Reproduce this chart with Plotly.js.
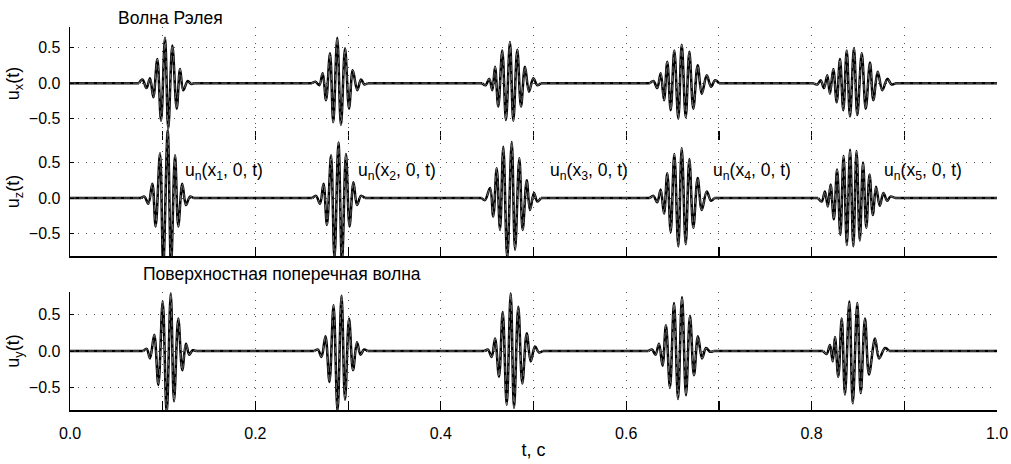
<!DOCTYPE html>
<html>
<head>
<meta charset="utf-8">
<script src="https://cdn.plot.ly/plotly-3.0.1.min.js"></script>
<style>html,body{margin:0;padding:0;background:#fff;}#chart{width:1011px;height:464px;}</style>
</head>
<body>
<div id="chart"></div>
<script>
// u_x(t): Rayleigh wave, horizontal component (extremes)
const uxT = [0,
 0.0745,0.0782,0.0825,0.0863,0.0899,0.0942,0.0982,0.1025,0.1060,0.1104,0.1151,0.1187,0.1222,0.1270,0.1305,0.134,
 0.2610,0.2648,0.2689,0.2726,0.2762,0.2805,0.2840,0.2883,0.2923,0.2967,0.3010,0.3050,0.3099,0.3139,0.3177,0.321,
 0.4445,0.4482,0.4523,0.4556,0.4585,0.4620,0.4663,0.4703,0.4746,0.4782,0.4825,0.4865,0.4908,0.4951,0.4998,0.5041,0.508,
 0.6255,0.6294,0.6335,0.6372,0.6408,0.6443,0.6480,0.6519,0.6562,0.6599,0.6642,0.6681,0.6724,0.6771,0.6815,0.6869,0.6915,0.6958,0.700,
 0.8025,0.8061,0.8098,0.8134,0.8169,0.8198,0.8234,0.8271,0.8306,0.8342,0.8379,0.8414,0.8457,0.8493,0.8541,0.8584,0.8630,0.8666,0.8713,0.8763,0.8817,0.8864,0.890,
 1];
const uxV = [0,
 0,0.05,-0.07,0.07,-0.20,0.34,-0.53,0.64,-0.64,0.53,-0.36,0.20,-0.10,0.03,-0.01,0,
 0,0.02,-0.03,0.14,-0.24,0.42,-0.55,0.64,-0.59,0.49,-0.36,0.18,-0.10,0.05,-0.02,0,
 0,-0.03,0.06,-0.10,0.23,-0.33,0.46,-0.52,0.58,-0.53,0.47,-0.33,0.23,-0.12,0.07,-0.03,0,
 0,0.03,-0.07,0.14,-0.24,0.30,-0.38,0.46,-0.50,0.54,-0.48,0.44,-0.36,0.25,-0.15,0.11,-0.05,0.04,0,
 0,-0.02,0.04,-0.07,0.11,-0.15,0.20,-0.27,0.34,-0.38,0.46,-0.47,0.49,-0.45,0.42,-0.36,0.29,-0.24,0.16,-0.10,0.06,-0.02,0,
 0];

// u_z(t): Rayleigh wave, vertical component
const uzT = [0,
 0.0765,0.0802,0.0845,0.0888,0.0924,0.0971,0.1006,0.1054,0.1090,0.1133,0.1168,0.1211,0.1251,0.1294,0.133,
 0.2615,0.2654,0.2697,0.2735,0.2772,0.2816,0.2853,0.2896,0.2934,0.2977,0.3015,0.3058,0.3096,0.3139,0.318,
 0.4440,0.4477,0.4531,0.4566,0.4603,0.4639,0.4674,0.4717,0.4765,0.4801,0.4847,0.4883,0.4927,0.4962,0.5005,0.5041,0.508,
 0.6255,0.6294,0.6335,0.6372,0.6408,0.6443,0.6480,0.6519,0.6562,0.6599,0.6642,0.6681,0.6724,0.6771,0.6815,0.6869,0.6915,0.695,
 0.8070,0.8109,0.8144,0.8175,0.8205,0.8240,0.8275,0.8310,0.8345,0.8380,0.8415,0.8450,0.8485,0.8520,0.8555,0.8590,0.8625,0.8660,0.8695,0.8735,0.8775,0.8815,0.8850,0.890,
 1];
const uzV = [0,
 0,0.02,-0.08,0.20,-0.40,0.63,-0.95,0.95,-0.95,0.60,-0.40,0.20,-0.10,0.02,0,
 0,0.03,-0.08,0.20,-0.38,0.60,-0.85,0.78,-0.90,0.62,-0.40,0.22,-0.10,0.03,0,
 0,-0.03,0.14,-0.26,0.42,-0.45,0.72,-0.85,0.79,-0.73,0.56,-0.45,0.25,-0.17,0.07,-0.05,0,
 0,0.03,-0.06,0.12,-0.22,0.35,-0.48,0.62,-0.68,0.70,-0.65,0.55,-0.42,0.28,-0.17,0.09,-0.04,0,
 0,-0.05,0.09,-0.12,0.19,-0.30,0.40,-0.52,0.59,-0.66,0.68,-0.68,0.66,-0.60,0.50,-0.42,0.33,-0.24,0.16,-0.11,0.07,-0.04,0.02,0,
 0];

// u_y(t): surface shear wave
const uyT = [0,
 0.0790,0.0827,0.0863,0.0909,0.0953,0.1000,0.1043,0.1087,0.1122,0.1168,0.1211,0.1251,0.1287,0.1323,0.136,
 0.2635,0.2675,0.2713,0.2756,0.2799,0.2843,0.2886,0.2929,0.2967,0.3010,0.3053,0.3096,0.3134,0.3172,0.321,
 0.4470,0.4509,0.4549,0.4585,0.4628,0.4668,0.4711,0.4754,0.4790,0.4836,0.4879,0.4927,0.4970,0.5016,0.5059,0.510,
 0.6240,0.6278,0.6316,0.6354,0.6392,0.6429,0.6472,0.6516,0.6559,0.6602,0.6645,0.6688,0.6731,0.6774,0.6818,0.6861,0.6904,0.694,
 0.8125,0.8163,0.8198,0.8228,0.8252,0.8288,0.8325,0.8360,0.8407,0.8444,0.8493,0.8530,0.8576,0.8619,0.8684,0.8727,0.8792,0.8835,
 1];
const uyV = [0,
 0,0.03,-0.10,0.22,-0.46,0.67,-0.85,0.78,-0.68,0.44,-0.26,0.10,-0.05,0.01,0,
 0,0.02,-0.08,0.20,-0.42,0.62,-0.82,0.75,-0.66,0.44,-0.26,0.12,-0.05,0.02,0,
 0,0.02,-0.08,0.17,-0.35,0.53,-0.73,0.78,-0.77,0.60,-0.44,0.24,-0.14,0.06,-0.02,0,
 0,0.02,-0.05,0.10,-0.20,0.35,-0.50,0.65,-0.65,0.73,-0.60,0.48,-0.33,0.20,-0.10,0.04,-0.01,0,
 0,-0.04,0.08,-0.14,0.19,-0.35,0.44,-0.59,0.67,-0.71,0.65,-0.57,0.44,-0.32,0.17,-0.10,0.04,0,
 0];

const xTickVals = [0,0.1,0.2,0.3,0.4,0.5,0.6,0.7,0.8,0.9,1.0];
const xTickText = ['0.0','','0.2','','0.4','','0.6','','0.8','','1.0'];
const yTickVals = [-0.5, 0, 0.5];
const yTickText = ['\u22120.5','0.0','0.5'];
const probeLabels = ['u<sub>n</sub>(x<sub>1</sub>, 0, t)','u<sub>n</sub>(x<sub>2</sub>, 0, t)','u<sub>n</sub>(x<sub>3</sub>, 0, t)','u<sub>n</sub>(x<sub>4</sub>, 0, t)','u<sub>n</sub>(x<sub>5</sub>, 0, t)'];
const probeT = [0.1219, 0.3085, 0.5156, 0.6915, 0.8759];
const panelTitles = ['Волна Рэлея', 'Поверхностная поперечная волна'];

const FONT = 'Liberation Sans, Arial, sans-serif';

// split a series into flat baseline stretches (drawn straight) and wave packets (drawn smooth)
function split(t, v) {
  const packets = [], base = {x: [], y: []};
  let i = 0;
  while (i < t.length - 1) {
    if (v[i] === 0 && v[i + 1] === 0) {
      base.x.push(t[i], t[i + 1], null); base.y.push(v[i], v[i + 1], null); i++;
    } else {
      let j = i + 1;
      while (j < t.length && v[j] !== 0) j++;
      packets.push({x: t.slice(i, j + 1), y: v.slice(i, j + 1)});
      i = j;
    }
  }
  return {packets, base};
}
function series(t, v, xa, ya) {
  const s = split(t, v), out = [];
  const styles = [
    {color: '#000', width: 2.5},
    {color: '#b4b4b4', width: 0.6, dash: '6px,3px'}
  ];
  styles.forEach(st => {
    out.push({x: s.base.x, y: s.base.y, xaxis: xa, yaxis: ya, type: 'scatter', mode: 'lines',
      line: Object.assign({}, st, {shape: 'linear'}), hoverinfo: 'skip', showlegend: false});
    s.packets.forEach(p => out.push({x: p.x, y: p.y, xaxis: xa, yaxis: ya, type: 'scatter', mode: 'lines',
      line: Object.assign({}, st, {shape: 'spline', smoothing: 1}), hoverinfo: 'skip', showlegend: false}));
  });
  return out;
}
const data = [].concat(series(uxT, uxV, 'x', 'y'), series(uzT, uzV, 'x2', 'y2'), series(uyT, uyV, 'x3', 'y3'));

const gridStyle = {showgrid: true, gridcolor: '#555', gridwidth: 1, griddash: '1px,7px', zeroline: false};
function xax(anchor, labels, line) {
  return Object.assign({
    anchor: anchor, domain: [0, 1], range: [0, 1], tickmode: 'array', tickvals: xTickVals,
    ticktext: xTickText, showticklabels: labels, ticks: 'inside', ticklen: 9, tickcolor: '#000', tickwidth: 1.2,
    showline: line, linecolor: '#000', linewidth: 1.6, ticklabelstandoff: 8,
    tickfont: {family: FONT, size: 16, color: '#000'}
  }, gridStyle);
}
function yax(anchor, domain, range, title) {
  return Object.assign({
    anchor: anchor, domain: domain, range: range, tickmode: 'array', tickvals: yTickVals, ticktext: yTickText,
    ticks: 'inside', ticklen: 4, tickcolor: '#000', showline: true, linecolor: '#000', linewidth: 1.4,
    ticklabelstandoff: 5,
    tickfont: {family: FONT, size: 16, color: '#000'},
    title: {text: title, font: {family: FONT, size: 18, color: '#000'}, standoff: 4}
  }, gridStyle);
}

const annotations = [
  {text: panelTitles[0], xref: 'paper', yref: 'paper', x: 0.108, y: 1.0235, xanchor: 'center', yanchor: 'middle', showarrow: false, font: {family: FONT, size: 17.5, color: '#000'}},
  {text: panelTitles[1], xref: 'paper', yref: 'paper', x: 0.229, y: 0.355, xanchor: 'center', yanchor: 'middle', showarrow: false, font: {family: FONT, size: 17.5, color: '#000'}}
];
probeLabels.forEach((txt, i) => annotations.push({
  text: txt, xref: 'x2', yref: 'y2', x: probeT[i], y: 0.37, xanchor: 'left', yanchor: 'middle',
  showarrow: false, font: {family: FONT, size: 17.5, color: '#000'}
}));

const layout = {
  width: 1011, height: 464,
  margin: {l: 70, r: 14, t: 27, b: 54},
  paper_bgcolor: '#fff', plot_bgcolor: 'rgba(0,0,0,0)',
  font: {family: FONT, color: '#000'},
  showlegend: false,
  xaxis: xax('y', false, false),
  xaxis2: xax('y2', false, true),
  xaxis3: Object.assign(xax('y3', true, true), {title: {text: 't, с', font: {family: FONT, size: 18, color: '#000'}, standoff: 2}}),
  yaxis: yax('x', [0.705, 1], [-0.8, 0.79], 'u<sub>x</sub>(t)'),
  yaxis2: yax('x2', [0.402, 0.739], [-0.817, 1.0], 'u<sub>z</sub>(t)'),
  yaxis3: yax('x3', [0, 0.308], [-0.8, 0.8], 'u<sub>y</sub>(t)'),
  annotations: annotations
};

Plotly.newPlot('chart', data, layout, {staticPlot: true, displayModeBar: false});
</script>
</body>
</html>
